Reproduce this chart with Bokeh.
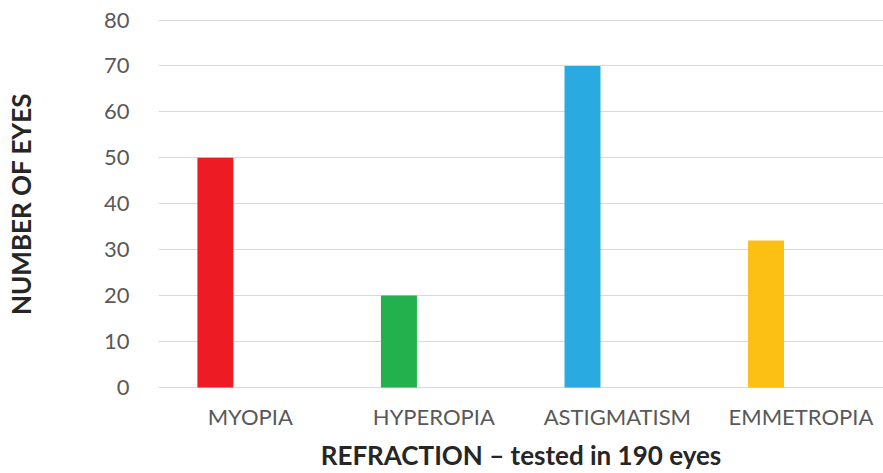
import numpy as np
from bokeh.plotting import figure
from bokeh.models import ColumnDataSource, Range1d, FixedTicker
from bokeh.transform import dodge
from bokeh.embed import file_html
from bokeh.resources import INLINE

# Refraction results: number of eyes per category
categories = ["MYOPIA", "HYPEROPIA", "ASTIGMATISM", "EMMETROPIA"]
eyes = [50, 20, 70, 32]
bar_colors = ["#ED1C24", "#22B14C", "#29ABE2", "#FCBF14"]
y_ticks = [0, 10, 20, 30, 40, 50, 60, 70, 80]

pos = list(range(len(categories)))
source = ColumnDataSource(dict(pos=pos, eyes=eyes, color=bar_colors, name=categories))

FONT = "Lato"

p = figure(
    width=883, height=473,
    output_backend="svg", toolbar_location=None,
    x_range=Range1d(-0.5, 3.45), y_range=Range1d(-0.44, 80.33),
    min_border_left=158, min_border_right=0,
    min_border_top=18, min_border_bottom=80,
)

# bars sit in the left part of each category slot
p.vbar(x=dodge("pos", -0.19), top="eyes", bottom=0, width=0.196,
       fill_color="color", line_color=None, source=source)

p.outline_line_color = None
p.background_fill_color = "white"
p.border_fill_color = "white"
p.xgrid.visible = False
p.ygrid.grid_line_color = "#d9d9d9"
p.ygrid.grid_line_width = 1.2

# y axis
p.yaxis.ticker = FixedTicker(ticks=y_ticks)
p.yaxis.axis_line_color = None
p.yaxis.major_tick_line_color = None
p.yaxis.minor_tick_line_color = None
p.yaxis.major_label_text_font = FONT
p.yaxis.major_label_text_font_size = "22px"
p.yaxis.major_label_text_color = "#595959"
p.yaxis.major_label_standoff = 23
p.yaxis.axis_label = "NUMBER OF EYES"
p.yaxis.axis_label_text_font = FONT
p.yaxis.axis_label_text_font_style = "bold"
p.yaxis.axis_label_text_font_size = "26px"
p.yaxis.axis_label_text_color = "#262626"
p.yaxis.axis_label_standoff = 64

# x axis with category names at each slot centre
p.xaxis.ticker = FixedTicker(ticks=pos)
p.xaxis.major_label_overrides = {i: c for i, c in zip(pos, categories)}
p.xaxis.axis_line_color = None
p.xaxis.major_tick_line_color = None
p.xaxis.minor_tick_line_color = None
p.xaxis.major_label_text_font = FONT
p.xaxis.major_label_text_font_size = "22px"
p.xaxis.major_label_text_color = "#595959"
p.xaxis.major_label_standoff = 7
p.xaxis.axis_label = "REFRACTION \u2013 tested in 190 eyes"
p.xaxis.axis_label_text_font = FONT
p.xaxis.axis_label_text_font_style = "bold"
p.xaxis.axis_label_text_font_size = "26px"
p.xaxis.axis_label_text_color = "#262626"
p.xaxis.axis_label_standoff = 6

open("out.html", "w").write(file_html(p, INLINE))
